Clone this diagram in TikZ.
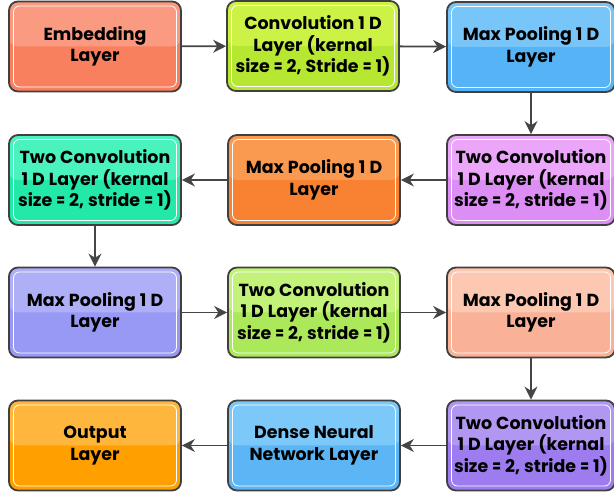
\documentclass[tikz,border=0pt]{standalone}
\usepackage{fontspec}
\setmainfont{Poppins}[BoldFont={Poppins Bold}]
\newfontfamily\layerfont{Poppins Bold}[WordSpace=1.1]
\usetikzlibrary{arrows.meta}
\newcommand\eqn{\scalebox{0.72}[1]{=}}
\definecolor{bord}{HTML}{404040}
\definecolor{arr}{HTML}{454545}
\definecolor{embT}{HTML}{FA9A80}\definecolor{embB}{HTML}{F9805F}
\definecolor{limT}{HTML}{CCF245}\definecolor{limB}{HTML}{B6E832}
\definecolor{bluT}{HTML}{78C6F9}\definecolor{bluB}{HTML}{56B4F6}
\definecolor{purT}{HTML}{EBA6F9}\definecolor{purB}{HTML}{DD8EF5}
\definecolor{oraT}{HTML}{FA9A50}\definecolor{oraB}{HTML}{F98232}
\definecolor{teaT}{HTML}{4AF2BE}\definecolor{teaB}{HTML}{22E8A8}
\definecolor{perT}{HTML}{AFAFF8}\definecolor{perB}{HTML}{9898F5}
\definecolor{li2T}{HTML}{C2F27A}\definecolor{li2B}{HTML}{ABE85A}
\definecolor{peaT}{HTML}{FCC8B2}\definecolor{peaB}{HTML}{F9B198}
\definecolor{viT}{HTML}{B197F2}\definecolor{viB}{HTML}{9C7CEE}
\definecolor{dnT}{HTML}{7CC8F9}\definecolor{dnB}{HTML}{5CB6F5}
\definecolor{ouT}{HTML}{FFB63C}\definecolor{ouB}{HTML}{FFA000}
\tikzset{
  layer/.style 2 args={rectangle, rounded corners=9bp, draw=bord, line width=1.8bp,
    minimum width=172bp, minimum height=90bp, fill=#2, align=center,
    inner sep=0pt,
    font=\layerfont\fontsize{17.5}{21.5}\selectfont,
    path picture={
      \fill[#1] (path picture bounding box.north west) rectangle (path picture bounding box.east);
      \draw[white, line width=0.8bp, rounded corners=6bp]
        ([shift={(4.5bp,-4.5bp)}]path picture bounding box.north west) rectangle
        ([shift={(-4.5bp,4.5bp)}]path picture bounding box.south east);
    }},
  flow/.style={draw=arr, line width=1.8bp, -{Stealth[length=13bp,width=13bp]}}
}
\begin{document}
\begin{tikzpicture}[x=1bp,y=1bp]
\useasboundingbox (0,0) rectangle (614,498);
% row 1
\node[layer={embT}{embB}] (emb) at (95,451.5) {Embedding\\Layer};
\node[layer={limT}{limB}] (conv1) at (313,452) {Convolution 1 D\\Layer (kernal\\size \eqn{} 2, Stride \eqn{} 1)};
\node[layer={bluT}{bluB}, minimum width=168bp] (mp1) at (531,451) {Max Pooling 1 D\\Layer};
% row 2
\node[layer={purT}{purB}, minimum width=168bp] (tc1) at (531,318) {Two Convolution\\1 D Layer (kernal\\size \eqn{} 2, stride \eqn{} 1)};
\node[layer={oraT}{oraB}] (mp2) at (314,318) {Max Pooling 1 D\\Layer};
\node[layer={teaT}{teaB}] (tc2) at (95,318) {Two Convolution\\1 D Layer (kernal\\size \eqn{} 2, stride \eqn{} 1)};
% row 3
\node[layer={perT}{perB}] (mp3) at (95,185.5) {Max Pooling 1 D\\Layer};
\node[layer={li2T}{li2B}] (tc3) at (314,185.5) {Two Convolution\\1 D Layer (kernal\\size \eqn{} 2, stride \eqn{} 1)};
\node[layer={peaT}{peaB}, minimum width=168bp] (mp4) at (531,185.5) {Max Pooling 1 D\\Layer};
% row 4
\node[layer={viT}{viB}, minimum width=168bp] (tc4) at (531,52.5) {Two Convolution\\1 D Layer (kernal\\size \eqn{} 2, stride \eqn{} 1)};
\node[layer={dnT}{dnB}] (dense) at (314,52.5) {Dense Neural\\Network Layer};
\node[layer={ouT}{ouB}] (out) at (95,52.5) {Output\\Layer};
% connectors
\draw[flow] (emb) -- (conv1);
\draw[flow] (conv1) -- (mp1);
\draw[flow] (mp1) -- (tc1);
\draw[flow] (tc1) -- (mp2);
\draw[flow] (mp2) -- (tc2);
\draw[flow] (tc2) -- (mp3);
\draw[flow] (mp3) -- (tc3);
\draw[flow] (tc3) -- (mp4);
\draw[flow] (mp4) -- (tc4);
\draw[flow] (tc4) -- (dense);
\draw[flow] (dense) -- (out);
\end{tikzpicture}
\end{document}
